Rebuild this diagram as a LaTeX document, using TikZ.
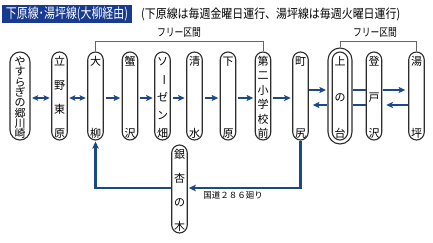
\documentclass[tikz,border=0pt]{standalone}
\usepackage{fontspec}
\setmainfont{Noto Sans CJK JP}
\usetikzlibrary{arrows.meta,calc}
\definecolor{arrowblue}{RGB}{27,72,135}
\definecolor{titleblue}{RGB}{24,58,145}
\definecolor{pillgray}{RGB}{45,45,45}
\tikzset{
  pillbox/.style={draw=pillgray, line width=1.1pt, inner sep=0pt, fill=white},
  stchar/.style={inner sep=0pt, font=\fontsize{11}{11}\selectfont},
  flow/.style={draw=arrowblue, line width=2pt, -{Stealth[length=6.5pt,width=6pt,inset=1.2pt]}, shorten <=2pt, shorten >=1.5pt},
  flowboth/.style={draw=arrowblue, line width=2pt, {Stealth[length=6pt,width=5.5pt,inset=1.2pt]}-{Stealth[length=6pt,width=5.5pt,inset=1.2pt]}, shorten <=1.5pt, shorten >=1.5pt},
  plainflow/.style={draw=arrowblue, line width=2pt},
  loopline/.style={draw=arrowblue, line width=2.5pt, -{Stealth[length=7pt,width=6.5pt,inset=1.5pt]}, shorten >=1pt},
  bracket/.style={draw=black!60, line width=0.7pt},
  zonelabel/.style={inner sep=0pt, font=\fontsize{11}{11}\selectfont},
}
\newcommand\station[7]{%
  \node[pillbox, minimum width=#5pt, minimum height={(#4-#3)*1pt}, rounded corners={#5*0.5pt}] (#1) at (#2,{(#3+#4)/2}) {};
  \foreach \ch [count=\i] in {#7} {
    \node[stchar] (#1-\i) at (#2,{#3+9.5+(\i-1)*(#4-#3-16)/(#6-1)}) {\ch};
  }%
}
\begin{document}
\begin{tikzpicture}[x=1pt,y=-1pt]
\useasboundingbox (0,0) rectangle (433,242);
\fill[white] (0,0) rectangle (433,242);

% title
\node[fill=titleblue, text=white, inner sep=0pt, minimum width=130pt, minimum height=18pt] (title) at (67,13.5)
  {\fontsize{14}{14}\selectfont\resizebox{122pt}{\height}{下原線･湯坪線(大柳経由)}};
\node[anchor=west, inner sep=0pt] (note) at (141,14)
  {\fontsize{12.5}{13}\selectfont\resizebox{259pt}{\height}{(下原線は毎週金曜日運行、湯坪線は毎週火曜日運行)}};

% stations
\station{yasuragi}{20}{52}{140}{20}{8}{や,す,ら,ぎ,の,郷,川,崎}
\station{tateno}{59.5}{52}{140}{15.5}{4}{立,野,東,原}
\station{oyanagi}{95.5}{52}{140}{15.5}{2}{大,柳}
\station{kanizawa}{130}{52}{140}{15.5}{2}{蟹,沢}
\station{sozen}{162.5}{52}{140}{15.5}{5}{ソ,{\rotatebox{-90}{ー}},ゼ,ン,畑}
\station{shimizu}{194.5}{52}{140}{15.5}{2}{清,水}
\station{shimohara}{228}{52}{140}{15.5}{2}{下,原}
\station{daini}{263}{52}{140}{15.5}{6}{第,二,小,学,校,前}
\station{machijiri}{300.5}{52}{140}{15.5}{2}{町,尻}
\node[pillbox, minimum width=24pt, minimum height=96pt, rounded corners=12pt] (uenodaiouter) at (340,96) {};
\station{uenodai}{340}{52}{140}{15.5}{3}{上,の,台}
\station{noboto}{374}{52}{140}{15.5}{3}{登,戸,沢}
\station{yutsubo}{416.5}{52}{140}{15.5}{2}{湯,坪}
\station{ginkgo}{179.5}{145}{233}{15.5}{4}{銀,杏,の,木}

% horizontal arrows
\draw[flowboth] ($(yasuragi.east)+(0,2)$) -- ($(tateno.west)+(0,2)$);
\draw[flowboth] ($(tateno.east)+(0,2)$) -- ($(oyanagi.west)+(0,2)$);
\draw[flow] ($(oyanagi.east)+(0,2)$) -- ($(kanizawa.west)+(0,2)$);
\draw[flow] ($(kanizawa.east)+(0,2)$) -- ($(sozen.west)+(0,2)$);
\draw[flow] ($(sozen.east)+(0,2)$) -- ($(shimizu.west)+(0,2)$);
\draw[flow] ($(shimizu.east)+(0,2)$) -- ($(shimohara.west)+(0,2)$);
\draw[flow] ($(shimohara.east)+(0,2)$) -- ($(daini.west)+(0,2)$);
\draw[flow] ($(daini.east)+(0,2)$) -- ($(machijiri.west)+(0,2)$);

\draw[flow, shorten <=0.5pt] ($(machijiri.east)+(0,-6)$) -- ($(uenodaiouter.west)+(0,-6)$);
\draw[flow, shorten <=0.5pt, shorten >=4pt] ($(uenodaiouter.west)+(0,9)$) -- ($(machijiri.east)+(0,9)$);
\draw[plainflow] ($(uenodaiouter.east)+(0,-6)$) -- ($(noboto.west)+(0,-6)$);
\draw[plainflow] ($(uenodaiouter.east)+(0,9)$) -- ($(noboto.west)+(0,9)$);
\draw[flow, shorten <=0.5pt, shorten >=3pt] ($(noboto.east)+(0,-6)$) -- ($(yutsubo.west)+(0,-6)$);
\draw[flow, shorten <=0.5pt, shorten >=4pt] ($(yutsubo.west)+(0,9)$) -- ($(noboto.east)+(0,9)$);

% loop via route 286
\coordinate (loopy) at (0,188);
\draw[loopline] (machijiri.south) -- (machijiri.south |- loopy) -- (ginkgo.east |- loopy);
\draw[loopline] (ginkgo.west |- loopy) -- (oyanagi.south |- loopy) -- (oyanagi.south);
\node[inner sep=0pt, font=\fontsize{8.5}{9}\selectfont] (route) at (233,195) {国道２８６廻り};

% free zones
\draw[bracket] (oyanagi.north) -- ++(0,-10) -| (daini.north);
\draw[bracket] (uenodaiouter.north) -- ++(0,-6) -| (yutsubo.north);
\node[zonelabel] (free1) at (179,33) {\resizebox{44pt}{\height}{フリー区間}};
\node[zonelabel] (free2) at (375,33) {\resizebox{44pt}{\height}{フリー区間}};
\end{tikzpicture}
\end{document}
